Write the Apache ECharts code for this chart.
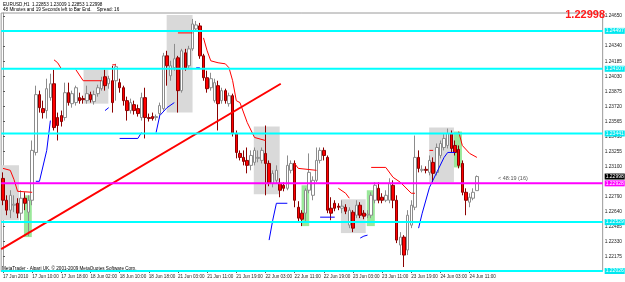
<!DOCTYPE html>
<html>
<head>
<meta charset="utf-8">
<script src="https://cdn.jsdelivr.net/npm/echarts@6/dist/echarts.min.js"></script>
<style>
html, body { margin: 0; padding: 0; background: #fff; }
#chart { width: 625px; height: 282px; }
</style>
</head>
<body>
<div id="chart"></div>
<script>
// EURUSD H1, bars 17 Jun 2010 -> 24 Jun 2010
const symbol = 'EURUSD,H1'
const timeLabels = ['17 Jun 2010', '17 Jun 10:00', '17 Jun 18:00', '18 Jun 02:00', '18 Jun 10:00', '18 Jun 18:00',
  '21 Jun 03:00', '21 Jun 11:00', '21 Jun 19:00', '22 Jun 03:00', '22 Jun 11:00', '22 Jun 19:00',
  '23 Jun 03:00', '23 Jun 11:00', '23 Jun 19:00', '24 Jun 03:00', '24 Jun 11:00']
const slotCount = 165 // bars + right shift
// [open, close, low, high]
const candles = [
  [1.22979, 1.22754, 1.22703, 1.23041], [1.22754, 1.22652, 1.22600, 1.22805], [1.22652, 1.22805, 1.22570, 1.22857],
  [1.22703, 1.22713, 1.22631, 1.22805], [1.22723, 1.22621, 1.22570, 1.22775], [1.22621, 1.22775, 1.22549, 1.22857],
  [1.22775, 1.22723, 1.22652, 1.22836], [1.22631, 1.22754, 1.22385, 1.22805], [1.22754, 1.23267, 1.22703, 1.23369],
  [1.23246, 1.23841, 1.23215, 1.23933], [1.23841, 1.23707, 1.23656, 1.23882], [1.23697, 1.23656, 1.23595, 1.23779],
  [1.23677, 1.23902, 1.23595, 1.24005], [1.23810, 1.23953, 1.23779, 1.24056], [1.23953, 1.23502, 1.23472, 1.24097],
  [1.23605, 1.23523, 1.23369, 1.23656], [1.23625, 1.23564, 1.23513, 1.23677], [1.23605, 1.23861, 1.23574, 1.23964],
  [1.23861, 1.23759, 1.23728, 1.23964], [1.23748, 1.23851, 1.23707, 1.23882], [1.23759, 1.23912, 1.23728, 1.23933],
  [1.23810, 1.23779, 1.23748, 1.23861], [1.23800, 1.23789, 1.23748, 1.23830], [1.23779, 1.23851, 1.23748, 1.23933],
  [1.23841, 1.23789, 1.23759, 1.23871], [1.23769, 1.23841, 1.23738, 1.23882], [1.23851, 1.23912, 1.23820, 1.23943],
  [1.23902, 1.23984, 1.23882, 1.24025], [1.24025, 1.23933, 1.23882, 1.24097], [1.23953, 1.24005, 1.23902, 1.24035],
  [1.23984, 1.23759, 1.23656, 1.24138], [1.23984, 1.24128, 1.23779, 1.24158], [1.23964, 1.23912, 1.23861, 1.24005],
  [1.23912, 1.23779, 1.23728, 1.23933], [1.23779, 1.23677, 1.23574, 1.23820], [1.23677, 1.23759, 1.23646, 1.23800],
  [1.23738, 1.23677, 1.23636, 1.23779], [1.23697, 1.23646, 1.23615, 1.23738], [1.23605, 1.23810, 1.23574, 1.23861],
  [1.23810, 1.23605, 1.23390, 1.23912], [1.23605, 1.23595, 1.23564, 1.23646], [1.23615, 1.23595, 1.23574, 1.23656],
  [1.23605, 1.23615, 1.23574, 1.23636], [1.23646, 1.23728, 1.23595, 1.23759], [1.23697, 1.24240, 1.23677, 1.24271],
  [1.24240, 1.24138, 1.23933, 1.24292], [1.24035, 1.24138, 1.23984, 1.24189], [1.24117, 1.24210, 1.24087, 1.24363],
  [1.24220, 1.23882, 1.23656, 1.24240], [1.23882, 1.24292, 1.23861, 1.24312], [1.24271, 1.24117, 1.24087, 1.24312],
  [1.24138, 1.24312, 1.24107, 1.24343], [1.24312, 1.24568, 1.24292, 1.24620], [1.24517, 1.24558, 1.24497, 1.24599],
  [1.24548, 1.24240, 1.24210, 1.24579], [1.24240, 1.24015, 1.23984, 1.24261], [1.24015, 1.23902, 1.23861, 1.24087],
  [1.23912, 1.24005, 1.23882, 1.24066], [1.23779, 1.23964, 1.23759, 1.24005], [1.23933, 1.23748, 1.23472, 1.23984],
  [1.23779, 1.23882, 1.23748, 1.23912], [1.23882, 1.23779, 1.23748, 1.23902], [1.23748, 1.23830, 1.23718, 1.23861],
  [1.23830, 1.23441, 1.23410, 1.23851], [1.23441, 1.23246, 1.23185, 1.23472], [1.23236, 1.23195, 1.23164, 1.23267],
  [1.23195, 1.23154, 1.23113, 1.23267], [1.23164, 1.23113, 1.23031, 1.23297], [1.23113, 1.23215, 1.23062, 1.23267],
  [1.23144, 1.23267, 1.23113, 1.23297], [1.23185, 1.23195, 1.23144, 1.23267], [1.23164, 1.23267, 1.23133, 1.23297],
  [1.23236, 1.23133, 1.22805, 1.23523], [1.23133, 1.22928, 1.22898, 1.23164], [1.22928, 1.23031, 1.22887, 1.23062],
  [1.22959, 1.23062, 1.22928, 1.23113], [1.22928, 1.22857, 1.22785, 1.22980], [1.22908, 1.22877, 1.22846, 1.22939],
  [1.22877, 1.23113, 1.22857, 1.23215], [1.23062, 1.23133, 1.23031, 1.23164], [1.23133, 1.22754, 1.22682, 1.23164],
  [1.22682, 1.22570, 1.22529, 1.22744], [1.22621, 1.22559, 1.22488, 1.22652], [1.22621, 1.22857, 1.22539, 1.22877],
  [1.22857, 1.23041, 1.22826, 1.23236], [1.22805, 1.22959, 1.22754, 1.23000], [1.22959, 1.23164, 1.22939, 1.23297],
  [1.23164, 1.23267, 1.23133, 1.23297], [1.23267, 1.23215, 1.23164, 1.23297], [1.23195, 1.22652, 1.22621, 1.23215],
  [1.22672, 1.22621, 1.22549, 1.22785], [1.22723, 1.22672, 1.22641, 1.22754], [1.22693, 1.22682, 1.22652, 1.22723],
  [1.22672, 1.22693, 1.22621, 1.22754], [1.22682, 1.22641, 1.22611, 1.22713], [1.22498, 1.22652, 1.22467, 1.22682],
  [1.22631, 1.22467, 1.22426, 1.22652], [1.22600, 1.22703, 1.22570, 1.22754], [1.22703, 1.22600, 1.22570, 1.22734],
  [1.22621, 1.22590, 1.22559, 1.22652], [1.22600, 1.22611, 1.22570, 1.22652], [1.22600, 1.22805, 1.22570, 1.22836],
  [1.22754, 1.22908, 1.22723, 1.22939], [1.22877, 1.22754, 1.22723, 1.22939], [1.22785, 1.22754, 1.22723, 1.22826],
  [1.22754, 1.22805, 1.22734, 1.22857], [1.22754, 1.22928, 1.22723, 1.22980], [1.22908, 1.22754, 1.22672, 1.22959],
  [1.22754, 1.22344, 1.22313, 1.22805], [1.22293, 1.22375, 1.22190, 1.22426], [1.22375, 1.22190, 1.22067, 1.22395],
  [1.22242, 1.22600, 1.22190, 1.22652], [1.22498, 1.22703, 1.22467, 1.22754], [1.22682, 1.23195, 1.22652, 1.23420],
  [1.23195, 1.23082, 1.23041, 1.23267], [1.23062, 1.23072, 1.23041, 1.23113], [1.23072, 1.23062, 1.23031, 1.23103],
  [1.23041, 1.23164, 1.23010, 1.23215], [1.23144, 1.23031, 1.22939, 1.23195], [1.23041, 1.23297, 1.23010, 1.23338],
  [1.23215, 1.23338, 1.23185, 1.23369], [1.23297, 1.23390, 1.23267, 1.23441], [1.23318, 1.23441, 1.23287, 1.23492],
  [1.23441, 1.23287, 1.23246, 1.23472], [1.23318, 1.23246, 1.23215, 1.23369], [1.23277, 1.23113, 1.23082, 1.23318],
  [1.23133, 1.22836, 1.22805, 1.23164], [1.22836, 1.22754, 1.22600, 1.22877], [1.22734, 1.22785, 1.22682, 1.22826],
  [1.22775, 1.22836, 1.22754, 1.22877], [1.22853, 1.22998, 1.22853, 1.23009]
]
const priceTicks = [1.24650, 1.24340, 1.24185, 1.24030, 1.23875, 1.23720, 1.23565, 1.23410, 1.23255,
  1.23100, 1.22790, 1.22640, 1.22485, 1.22330, 1.22175]
const priceMin = 1.22026
const priceMax = 1.24681
const cyanLevels = [1.24497, 1.24107, 1.23441, 1.22529, 1.22026]
const magentaLevel = 1.22928
const trendLine = [[-0.5, 1.22252], [76.2, 1.23953]]
// stop indicator pieces [bar, price]
const redStops = [
  [[0, 1.23082], [2, 1.23062], [3, 1.22969], [4, 1.22846], [8, 1.22836]],
  [[14, 1.24199], [15, 1.24169], [16, 1.24107]],
  [[20, 1.24097], [22, 1.23984], [27, 1.23984]],
  [[30, 1.24148], [31, 1.24148]],
  [[48, 1.24476], [52, 1.24476]],
  [[55, 1.24425], [56, 1.24292], [57, 1.24189], [59, 1.24169], [61, 1.24158], [62, 1.24117], [63, 1.23984],
    [64, 1.23779], [65, 1.23759], [67, 1.23554], [69, 1.23400], [72, 1.23369]],
  [[80, 1.23133], [81, 1.23082], [86, 1.23062]],
  [[92, 1.22877], [94, 1.22826], [95, 1.22775]],
  [[101, 1.23092], [105, 1.23092], [107, 1.22990], [109, 1.22939], [112, 1.22826], [113, 1.22826]],
  [[117, 1.23267], [118, 1.23267]],
  [[125, 1.23461], [126, 1.23318], [128, 1.23236], [130, 1.23195]]
]
const blueStops = [
  [[9, 1.22949], [10, 1.22949], [12, 1.23267], [13, 1.23574]],
  [[28, 1.23677], [29, 1.23707]],
  [[32, 1.23390], [37, 1.23390], [38, 1.23451]],
  [[42, 1.23451], [43, 1.23625], [45, 1.23707], [47, 1.23759]],
  [[53, 1.24117], [54, 1.24117]],
  [[73, 1.22344], [74, 1.22549], [75, 1.22723], [78, 1.22723]],
  [[87, 1.22580], [91, 1.22580]],
  [[98, 1.22365], [99, 1.22385], [100, 1.22395]],
  [[114, 1.22467], [115, 1.22621], [117, 1.22887], [119, 1.23041], [121, 1.23195], [122, 1.23246], [124, 1.23246]]
]
// [fromBar, toBar, top, bottom]
const grayZones = [
  [-0.5, 4.4, 1.23113, 1.22549],
  [22.1, 28.9, 1.24097, 1.23748],
  [44.9, 52.0, 1.24661, 1.23656],
  [68.8, 75.9, 1.23513, 1.22816],
  [92.7, 99.5, 1.22764, 1.22416],
  [116.9, 123.7, 1.23502, 1.22939]
]
const greenZones = [
  [5.75, 7.9, 1.22805, 1.22375],
  [81.9, 84.0, 1.22908, 1.22488],
  [99.8, 102.0, 1.22857, 1.22488],
  [123.7, 125.9, 1.23461, 1.23092]
]

const font = 'Liberation Sans'
const last = candles[candles.length - 1]
const slots = Array.from({ length: slotCount }, (_, i) => (i % 8 === 0 && timeLabels[i / 8]) ? timeLabels[i / 8] : '')

function zoneSeries(zones, color) {
  return {
    type: 'custom',
    xAxisIndex: 1,
    silent: true,
    z: 1,
    encode: { x: [0, 1], y: [2, 3] },
    renderItem: (params, api) => {
      const p0 = api.coord([api.value(0), api.value(2)])
      const p1 = api.coord([api.value(1), api.value(3)])
      return {
        type: 'rect',
        shape: { x: p0[0], y: p0[1], width: p1[0] - p0[0], height: p1[1] - p0[1] },
        style: { fill: color }
      }
    },
    data: zones
  }
}

function stopSeries(pieces, color) {
  return pieces.map(p => ({
    type: 'line',
    xAxisIndex: 1,
    data: p,
    symbol: 'none',
    silent: true,
    z: 4,
    lineStyle: { color: color, width: 1 }
  }))
}

// horizontal price level across the whole window, with its tag on the price axis
function levelSeries(value, color, tagBg, tagFg, width) {
  return {
    type: 'line',
    xAxisIndex: 1,
    data: [[-0.5, value], [slotCount - 0.5, value]],
    symbol: 'none',
    silent: true,
    z: 6,
    lineStyle: { color: color, width: width, opacity: width ? 1 : 0 },
    endLabel: {
      show: true, distance: 2, fontFamily: font, fontSize: 5,
      color: tagFg, backgroundColor: tagBg, padding: [1, 1, 0, 1],
      formatter: () => value.toFixed(5)
    }
  }
}

const chart = echarts.init(document.getElementById('chart'))
chart.setOption({
  animation: false,
  backgroundColor: '#fff',
  grid: { left: 1, right: 18, top: 13, bottom: 11, show: true, borderColor: '#9a9a9a', borderWidth: 1 },
  xAxis: [
    {
      type: 'category',
      data: slots,
      axisLine: { show: true, lineStyle: { color: '#9a9a9a', type: 'dotted' } },
      axisTick: { show: true, length: 2, alignWithLabel: true, interval: (i, v) => v !== '', lineStyle: { color: '#555' } },
      axisLabel: { interval: (i, v) => v !== '', align: 'left', fontFamily: font, fontSize: 4.6, color: '#222', margin: 3 },
      splitLine: { show: false }
    },
    { type: 'value', min: -0.5, max: slotCount - 0.5, show: false }
  ],
  yAxis: {
    type: 'value',
    position: 'right',
    min: priceMin,
    max: priceMax,
    axisLine: { show: true, lineStyle: { color: '#9a9a9a' } },
    axisTick: { show: true, length: 2, customValues: priceTicks, lineStyle: { color: '#555' } },
    axisLabel: { customValues: priceTicks, fontFamily: font, fontSize: 4.8, color: '#222', margin: 2, formatter: v => v.toFixed(5) },
    splitLine: { show: false }
  },
  series: [
    zoneSeries(grayZones, '#d9d9d9'),
    zoneSeries(greenZones, '#9ae89a'),
    {
      type: 'candlestick',
      data: candles,
      barWidth: 3,
      z: 2,
      silent: true,
      itemStyle: { color: '#ffffff', color0: '#ff0000', borderColor: '#8c8c8c', borderColor0: '#8b0000', borderWidth: 1 }
    },
    {
      type: 'line',
      xAxisIndex: 1,
      data: trendLine,
      symbol: 'none',
      silent: true,
      z: 5,
      lineStyle: { color: '#ff0000', width: 2 }
    },
    ...stopSeries(redStops, '#ff0000'),
    ...stopSeries(blueStops, '#0000ff'),
    ...cyanLevels.map(v => levelSeries(v, '#00ffff', '#00e8f0', '#ffffff', 2)),
    levelSeries(last[1], '#000000', '#000000', '#ffffff', 0),
    levelSeries(magentaLevel, '#ff00ff', '#ff00ff', '#ffffff', 2)
  ],
  graphic: [
    { type: 'text', left: 3, top: 2.5, style: { text: symbol + '  ' + [last[0], last[3], last[2], last[1]].map(v => v.toFixed(5)).join(' '), fontFamily: font, fontSize: 4.6, fill: '#000' } },
    { type: 'text', left: 3, top: 7, style: { text: '48 Minutes and 19 Seconds left to Bar End.    Spread: 16', fontFamily: font, fontSize: 4.6, fill: '#000' } },
    { type: 'text', right: 20, top: 9, style: { text: last[1].toFixed(5), fontFamily: font, fontSize: 11, fontWeight: 'bold', fill: '#ff1a1a' } },
    { type: 'text', left: 498, top: 175, style: { text: '< 48:19 (16)', fontFamily: font, fontSize: 5.5, fill: '#555' } },
    { type: 'text', left: 2, top: 266, style: { text: 'MetaTrader - Alpari UK, © 2001-2009 MetaQuotes Software Corp.', fontFamily: font, fontSize: 4.6, fill: '#000' } }
  ]
})
</script>
</body>
</html>
